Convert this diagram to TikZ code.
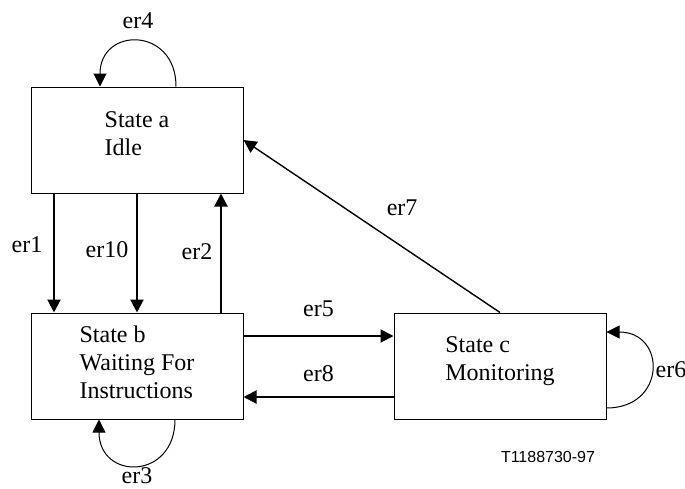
\documentclass[tikz,border=0pt]{standalone}
\usepackage{fontspec}
\setmainfont{Liberation Serif}
\newfontfamily\tagfont{Liberation Sans}
\usetikzlibrary{arrows.meta}

\tikzset{
  state/.style={draw, line width=0.5pt, minimum width=106pt, minimum height=53pt, align=left},
  trans/.style={-{Triangle[length=6.5pt,width=6.5pt]}, line width=1pt},
  selfarc/.style={-{Triangle[length=6.5pt,width=6.5pt]}, line width=0.5pt}
}

\begin{document}
\begin{tikzpicture}[x=0.5pt, y=-0.5pt, font=\fontsize{12}{14}\selectfont]
  \useasboundingbox (0,0) rectangle (685,488);
  % states
  \node[state, text depth=6pt] (a) at (137,140) {State a\\Idle};
  \node[state, text depth=4pt] (b) at (137,366) {State b\\Waiting For\\Instructions};
  \node[state, text depth=7pt] (c) at (500,366) {State c\\Monitoring};
  % transitions between states
  \draw[trans] ([xshift=-41.5pt]a.south) -- ([xshift=-41.5pt]b.north) node[pos=0.43,left=2pt]{er1};
  \draw[trans] (a.south) -- (b.north) node[pos=0.47,left=0.5pt]{er10};
  \draw[trans] ([xshift=42pt]b.north) -- ([xshift=42pt]a.south) node[pos=0.51,left=0.5pt]{er2};
  \draw[trans] ([yshift=15pt]b.east) -- ([yshift=15pt]c.west) node[midway,above=6pt]{er5};
  \draw[trans] ([yshift=-15.5pt]c.west) -- ([yshift=-15.5pt]b.east) node[midway,above=4pt]{er8};
  \draw[trans, line width=0.7pt] (c.north) -- (a.east) node[pos=0.47,above right,yshift=4pt]{er7};
  % self loops
  \draw[selfarc] ([xshift=19.5pt]a.north) .. controls +(0,-60) and +(0,-60) .. ([xshift=-18.5pt]a.north) node[midway,above=3pt]{er4};
  \draw[selfarc] ([xshift=19pt]b.south) .. controls +(0,61) and +(0,61) .. ([xshift=-19pt]b.south) node[midway,below=-2.5pt]{er3};
  \draw[selfarc] ([yshift=-21pt]c.east) .. controls +(60,0) and +(60,0) .. ([yshift=17pt]c.east) node[midway,right=-1.5pt]{er6};
  % figure tag
  \node[font=\tagfont\fontsize{8}{10}\selectfont] (tag) at (548,457) {T1188730-97};
\end{tikzpicture}
\end{document}
